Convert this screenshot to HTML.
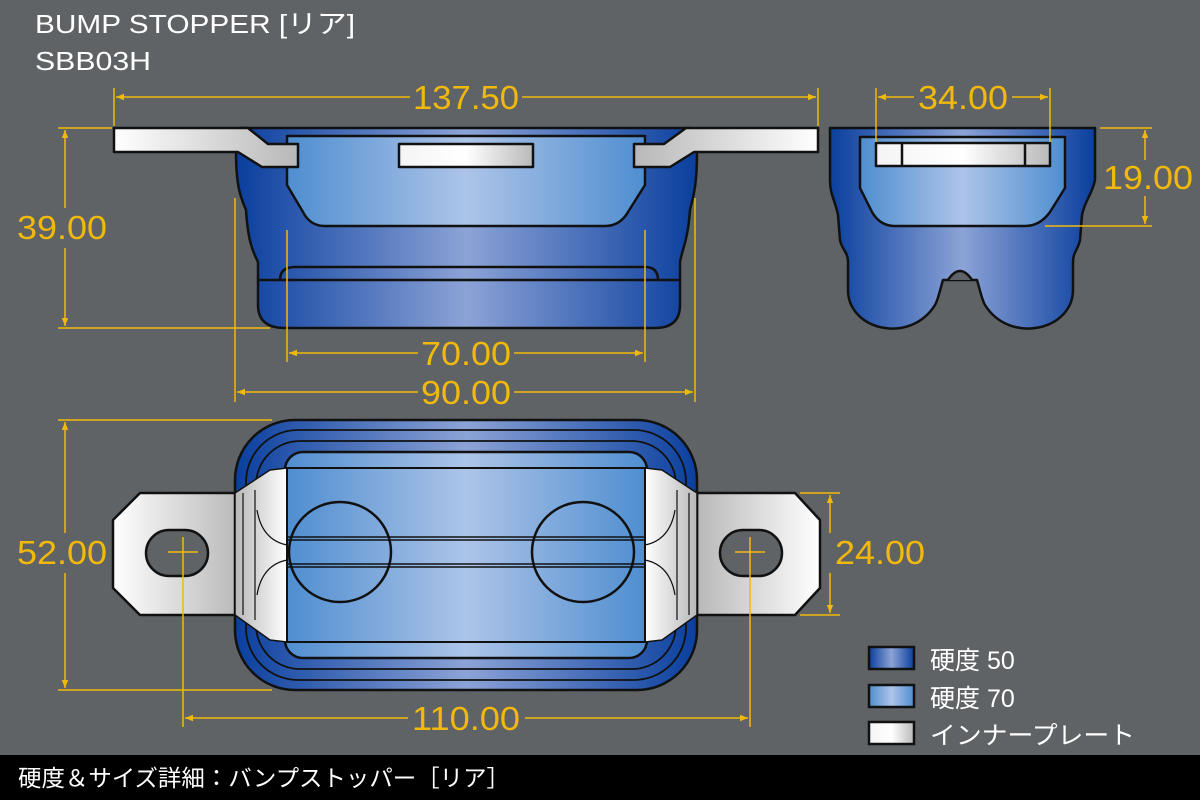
<!DOCTYPE html>
<html><head><meta charset="utf-8"><style>
html,body{margin:0;padding:0;background:#5f6366;}
svg{display:block;}
text{font-family:"Liberation Sans","Noto Sans CJK JP",sans-serif;}
</style></head><body>
<svg width="1200" height="800" viewBox="0 0 1200 800" xmlns="http://www.w3.org/2000/svg">
<defs>
<linearGradient id="dk" x1="0" x2="1" y1="0" y2="0">
<stop offset="0" stop-color="#0a3f9e"/><stop offset="0.5" stop-color="#8ca3d6"/><stop offset="1" stop-color="#0a3f9e"/></linearGradient>
<linearGradient id="lt" x1="0" x2="1" y1="0" y2="0">
<stop offset="0" stop-color="#4f8ed0"/><stop offset="0.5" stop-color="#adc4e8"/><stop offset="1" stop-color="#4f8ed0"/></linearGradient>
<linearGradient id="pl" x1="0" x2="1" y1="0" y2="0">
<stop offset="0" stop-color="#f4f4f4"/><stop offset="0.5" stop-color="#ffffff"/><stop offset="1" stop-color="#b9b9b9"/></linearGradient>
<linearGradient id="pl2" x1="0" x2="1" y1="0" y2="0">
<stop offset="0" stop-color="#ffffff"/><stop offset="1" stop-color="#b8b8b8"/></linearGradient>
<linearGradient id="pl3" x1="0" x2="1" y1="0" y2="0">
<stop offset="0" stop-color="#b8b8b8"/><stop offset="1" stop-color="#ffffff"/></linearGradient>
<marker id="ar" viewBox="0 0 10 10" refX="10" refY="5" markerWidth="10" markerHeight="8" orient="auto-start-reverse" markerUnits="userSpaceOnUse"><path d="M0,1 L10,5 L0,9 Z" fill="#f2b90c"/></marker>
</defs>
<rect width="1200" height="800" fill="#5f6366"/>
<text x="35" y="33" font-size="26" fill="#fff" textLength="320" lengthAdjust="spacingAndGlyphs">BUMP STOPPER [リア]</text>
<text x="35" y="70" font-size="26" fill="#fff" textLength="116" lengthAdjust="spacingAndGlyphs">SBB03H</text>

<!-- SIDE VIEW -->
<g stroke="#111" stroke-width="2.5" stroke-linejoin="round">
<path d="M240,128 L690,128 L697,152 C697,190 692,200 690,210 C688,240 682,250 680,262 L680,305 Q680,328 655,328 L285,328 Q258,328 258,305 L258,262 C252,250 248,240 246,210 C242,200 236,190 236,152 Z" fill="url(#dk)"/>
<path d="M258,280 L680,280" fill="none"/>
<path d="M280,280 Q280,267 295,267 L645,267 Q658,267 658,280" fill="none"/>
<path d="M287,136 L645,136 L645,185 L628,212 Q620,226 605,226 L325,226 Q310,226 303,212 L287,185 Z" fill="url(#lt)"/>
<rect x="399" y="144" width="134" height="23" fill="url(#pl)"/>
<path d="M114,128 L248,128 L268,144 L298,144 L298,167 L262,167 L238,152 L114,152 Z" fill="url(#pl2)"/>
<path d="M818,128 L686,128 L664,144 L634,144 L634,167 L670,167 L694,152 L818,152 Z" fill="url(#pl3)"/>
</g>

<!-- RIGHT VIEW -->
<g stroke="#111" stroke-width="2.5" stroke-linejoin="round">
<path d="M830,128 L1095,128 L1095,180 C1092,195 1085,200 1082,215 L1080,240 C1078,250 1073,252 1073,262 L1073,290 C1073,330 1010,345 985,305 C982,300 980,290 977,280 L943,280 C940,290 938,300 935,305 C910,345 848,330 848,290 L848,262 C848,252 842,250 840,240 L838,215 C835,200 830,195 830,180 Z" fill="url(#dk)"/>
<path d="M948,280 Q960,262 972,280" fill="#5f6366"/>
<path d="M860,137 L1065,137 L1065,188 L1050,212 Q1040,226 1025,226 L895,226 Q880,226 872,212 L860,188 Z" fill="url(#lt)"/>
<rect x="876" y="143" width="174" height="23" fill="url(#pl)"/>
<line x1="902" y1="143" x2="902" y2="166"/><line x1="1025" y1="143" x2="1025" y2="166"/>
</g>

<!-- BOTTOM VIEW -->
<g stroke="#111" stroke-width="2.5" stroke-linejoin="round">
<path d="M140,493 L240,493 L240,615 L140,615 L113,588 L113,520 Z" fill="url(#pl2)"/>
<rect x="146" y="530" width="62" height="46" rx="23" fill="#5f6366"/>
<path d="M795,493 L697,493 L697,615 L795,615 L820,588 L820,520 Z" fill="url(#pl3)"/>
<rect x="720" y="530" width="62" height="46" rx="23" fill="#5f6366"/>
<rect x="235" y="420" width="462" height="270" rx="60" fill="url(#dk)"/>
<rect x="246" y="430" width="440" height="250" rx="52" fill="none" stroke-width="1.8"/>
<rect x="256" y="441" width="420" height="228" rx="44" fill="none" stroke-width="1.8"/>
<rect x="285" y="452" width="362" height="206" rx="18" fill="url(#lt)"/>
<path d="M235,493 L270,470 L287,468 L287,642 L270,640 L235,615 Z" fill="url(#pl3)" stroke-width="1.5"/>
<path d="M697,493 L662,470 L645,468 L645,642 L662,640 L697,615 Z" fill="url(#pl2)" stroke-width="1.5"/>
<line x1="243" y1="493" x2="243" y2="615" stroke-width="1.2"/><line x1="255" y1="490" x2="255" y2="620" stroke-width="1.2"/>
<line x1="689" y1="493" x2="689" y2="615" stroke-width="1.2"/><line x1="677" y1="490" x2="677" y2="620" stroke-width="1.2"/>
<path d="M257,510 Q262,540 287,545 M257,595 Q262,565 287,560 M675,510 Q670,540 645,545 M675,595 Q670,565 645,560" fill="none" stroke-width="1.2"/>
<rect x="287" y="468" width="358" height="174" fill="url(#lt)" stroke-width="2"/>
<line x1="287" y1="537" x2="645" y2="537" stroke-width="1.5"/><line x1="287" y1="540" x2="645" y2="540" stroke-width="1.5"/>
<line x1="287" y1="564" x2="645" y2="564" stroke-width="1.5"/><line x1="287" y1="567" x2="645" y2="567" stroke-width="1.5"/>
<ellipse cx="340" cy="552" rx="51" ry="50" fill="none"/>
<ellipse cx="583" cy="552" rx="51" ry="50" fill="none"/>
</g>

<!-- DIMENSIONS -->
<g stroke="#f2b90c" stroke-width="1.5" fill="none">
<line x1="114" y1="88" x2="114" y2="126"/><line x1="818" y1="88" x2="818" y2="126"/>
<line x1="116" y1="97" x2="410" y2="97" marker-start="url(#ar)"/><line x1="522" y1="97" x2="816" y2="97" marker-end="url(#ar)"/>
<line x1="58" y1="128" x2="112" y2="128"/><line x1="58" y1="328" x2="270" y2="328"/>
<line x1="65" y1="130" x2="65" y2="208" marker-start="url(#ar)"/><line x1="65" y1="248" x2="65" y2="326" marker-end="url(#ar)"/>
<line x1="287" y1="230" x2="287" y2="362"/><line x1="645" y1="230" x2="645" y2="362"/>
<line x1="289" y1="353" x2="418" y2="353" marker-start="url(#ar)"/><line x1="514" y1="353" x2="643" y2="353" marker-end="url(#ar)"/>
<line x1="235" y1="198" x2="235" y2="402"/><line x1="695" y1="198" x2="695" y2="402"/>
<line x1="237" y1="392" x2="418" y2="392" marker-start="url(#ar)"/><line x1="514" y1="392" x2="693" y2="392" marker-end="url(#ar)"/>
<line x1="876" y1="88" x2="876" y2="142"/><line x1="1050" y1="88" x2="1050" y2="142"/>
<line x1="878" y1="97" x2="914" y2="97" marker-start="url(#ar)"/><line x1="1012" y1="97" x2="1048" y2="97" marker-end="url(#ar)"/>
<line x1="1100" y1="128" x2="1152" y2="128"/><line x1="1045" y1="226" x2="1152" y2="226"/>
<line x1="1145" y1="130" x2="1145" y2="160" marker-start="url(#ar)"/><line x1="1145" y1="196" x2="1145" y2="224" marker-end="url(#ar)"/>
<line x1="58" y1="420" x2="272" y2="420"/><line x1="58" y1="690" x2="272" y2="690"/>
<line x1="65" y1="422" x2="65" y2="533" marker-start="url(#ar)"/><line x1="65" y1="573" x2="65" y2="688" marker-end="url(#ar)"/>
<line x1="800" y1="493" x2="840" y2="493"/><line x1="800" y1="615" x2="840" y2="615"/>
<line x1="830" y1="495" x2="830" y2="533" marker-start="url(#ar)"/><line x1="830" y1="573" x2="830" y2="613" marker-end="url(#ar)"/>
<line x1="168" y1="552" x2="198" y2="552"/><line x1="183" y1="537" x2="183" y2="727"/>
<line x1="735" y1="552" x2="765" y2="552"/><line x1="750" y1="537" x2="750" y2="727"/>
<line x1="185" y1="718" x2="408" y2="718" marker-start="url(#ar)"/><line x1="525" y1="718" x2="748" y2="718" marker-end="url(#ar)"/>
</g>
<g fill="#f2b90c" font-size="33" text-anchor="middle">
<text x="466" y="109" textLength="106" lengthAdjust="spacingAndGlyphs">137.50</text>
<text x="62" y="239" textLength="90" lengthAdjust="spacingAndGlyphs">39.00</text>
<text x="466" y="365" textLength="90" lengthAdjust="spacingAndGlyphs">70.00</text>
<text x="466" y="404" textLength="90" lengthAdjust="spacingAndGlyphs">90.00</text>
<text x="963" y="109" textLength="90" lengthAdjust="spacingAndGlyphs">34.00</text>
<text x="1148" y="189" textLength="90" lengthAdjust="spacingAndGlyphs">19.00</text>
<text x="62" y="564" textLength="90" lengthAdjust="spacingAndGlyphs">52.00</text>
<text x="880" y="564" textLength="90" lengthAdjust="spacingAndGlyphs">24.00</text>
<text x="466" y="730" textLength="108" lengthAdjust="spacingAndGlyphs">110.00</text>
</g>

<!-- LEGEND -->
<g stroke="#111" stroke-width="2.5">
<rect x="869" y="647" width="45" height="22" fill="url(#dk)"/>
<rect x="869" y="685" width="45" height="22" fill="url(#lt)"/>
<rect x="869" y="722" width="45" height="22" fill="url(#pl)"/>
</g>
<g fill="#fff" font-size="25">
<text x="930" y="669">硬度 50</text>
<text x="930" y="707">硬度 70</text>
<text x="930" y="744" textLength="205" lengthAdjust="spacingAndGlyphs">インナープレート</text>
</g>

<rect x="0" y="755" width="1200" height="45" fill="#000"/>
<text x="18" y="786" font-size="23" fill="#fff" textLength="492" lengthAdjust="spacingAndGlyphs">硬度＆サイズ詳細：バンプストッパー［リア］</text>
</svg>
</body></html>
